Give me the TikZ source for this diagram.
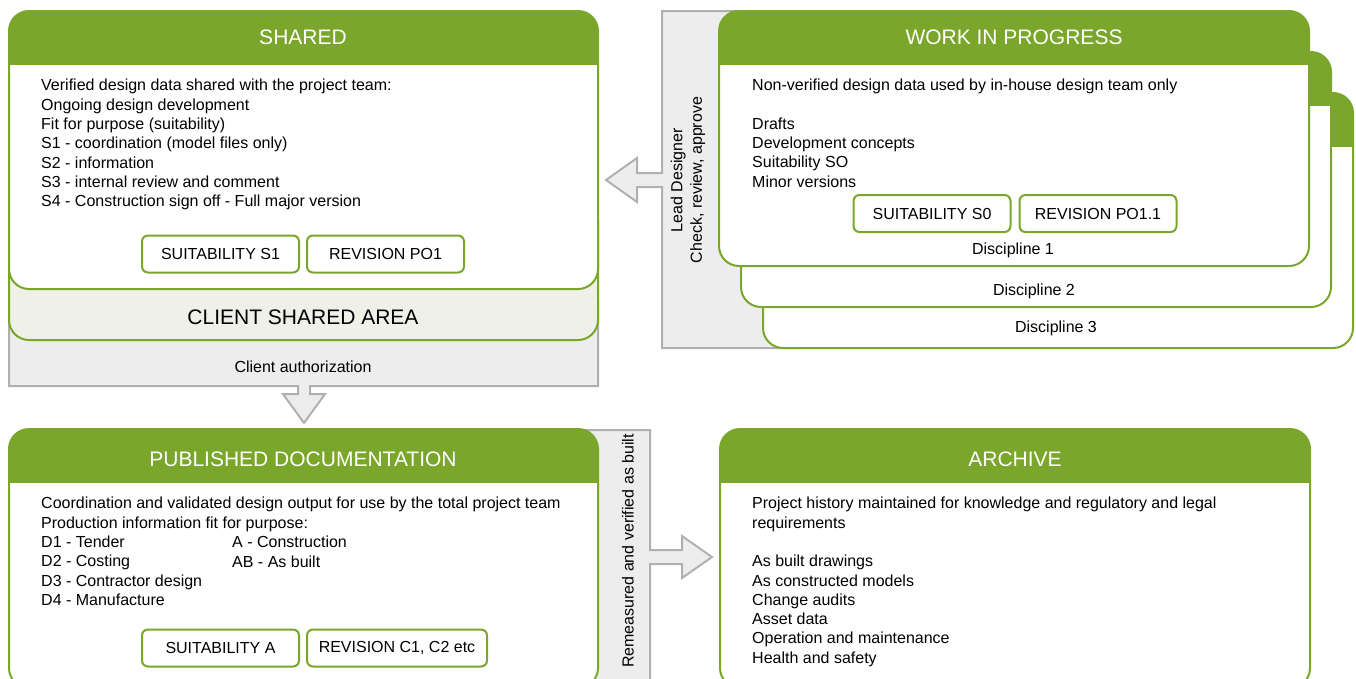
\documentclass[tikz,border=0pt]{standalone}
\usepackage{fontspec}
\setmainfont{Liberation Sans}
\definecolor{grn}{RGB}{122,166,43}
\definecolor{gfill}{RGB}{236,237,236}
\definecolor{gline}{RGB}{176,176,176}
\definecolor{cfill}{RGB}{239,241,233}
\newcommand{\greencard}[4]{%
  \fill[white, rounded corners=20pt] (#1,#2) rectangle (#3,#4);
  \begin{scope}
    \clip (#1-2,#2-2) rectangle (#3+2,#2+53);
    \fill[grn, rounded corners=20pt] (#1,#2) rectangle (#3,#4);
  \end{scope}
  \draw[grn, line width=2pt, rounded corners=20pt] (#1,#2) rectangle (#3,#4);
}
\begin{document}
\begin{tikzpicture}[x=1pt,y=-1pt,
  body/.style={font=\fontsize{16}{19.3}\selectfont, align=left, anchor=north west, inner sep=0pt},
  hdr/.style={font=\fontsize{21}{25}\selectfont, text=white, inner sep=0pt},
  lbl/.style={font=\fontsize{16}{19.3}\selectfont, inner sep=0pt},
  badge/.style={draw=grn, line width=2pt, rounded corners=6pt, fill=white, minimum height=37pt, minimum width=157pt, font=\fontsize{16}{19}\selectfont, inner sep=0pt},
  graypanel/.style={fill=gfill, draw=gline, line width=2pt, line join=miter}
]
\useasboundingbox (0,0) rectangle (1356,678);
\clip (0,0) rectangle (1356,678);

% ---- WIP gray panel with left arrow
\path[graypanel] (800,11) -- (662,11) -- (662,173) -- (637,173) -- (637,158) -- (606,180)
  -- (637,202) -- (637,187) -- (662,187) -- (662,348) -- (800,348);
\node[lbl, rotate=90, align=center] (lead) at (688,180) {Lead Designer\\Check, review, approve};

% ---- WIP cards
\greencard{763}{93}{1353}{348}
\greencard{741}{52}{1331}{307}
\greencard{719}{11}{1309}{266}
\node[hdr] (wiph) at (1014,37) {WORK IN PROGRESS};
\node[body] (wiptext) at (752,79) {Non-verified design data used by in-house design team only\\[19.3pt]Drafts\\Development concepts\\Suitability SO\\Minor versions};
\node[badge] (wipsuit) at (932,213.5) {SUITABILITY S0};
\node[badge] (wiprev) at (1098,213.5) {REVISION PO1.1};
\node[lbl] (d1) at (1013,250) {Discipline 1};
\node[lbl] (d2) at (1034,291) {Discipline 2};
\node[lbl] (d3) at (1056,328) {Discipline 3};

% ---- Client authorization panel with down arrow
\path[graypanel] (9,300) -- (9,386) -- (298,386) -- (298,394) -- (283,394) -- (304,423)
  -- (325,394) -- (310,394) -- (310,386) -- (598,386) -- (598,300);
\node[lbl] (clauth) at (303,367) {Client authorization};

% ---- Client shared area
\draw[grn, fill=cfill, line width=2pt, rounded corners=20pt] (9,200) rectangle (598,340);
\node[lbl, font=\fontsize{21}{25}\selectfont] (csa) at (303,317) {CLIENT SHARED AREA};

% ---- Shared
\greencard{9}{11}{598}{289}
\node[hdr] (shh) at (303,37) {SHARED};
\node[body] (shtext) at (41,79) {Verified design data shared with the project team:\\Ongoing design development\\Fit for purpose (suitability)\\S1 - coordination (model files only)\\S2 - information\\S3 - internal review and comment\\S4 - Construction sign off - Full major version};
\node[badge] (shsuit) at (220.5,254) {SUITABILITY S1};
\node[badge] (shrev) at (385.5,254) {REVISION PO1};

% ---- Remeasured panel with right arrow
\path[graypanel] (560,430) -- (650,430) -- (650,550) -- (682,550) -- (682,536) -- (712,557)
  -- (682,578) -- (682,564) -- (650,564) -- (650,700) -- (560,700);
\node[lbl, rotate=90] (remeas) at (628,551) {Remeasured and verified as built};

% ---- Published documentation
\greencard{9}{429}{598}{688}
\node[hdr] (pubh) at (303,459) {PUBLISHED DOCUMENTATION};
\node[body] (pubtext) at (41,497) {Coordination and validated design output for use by the total project team\\Production information fit for purpose:\\D1 - Tender\\D2 - Costing\\D3 - Contractor design\\D4 - Manufacture};
\node[body] (pubcol) at (232,536) {A - Construction\\AB - As built};
\node[badge] (pubsuit) at (220.5,648) {SUITABILITY A};
\node[badge, minimum width=180pt] (pubrev) at (397,648) {REVISION C1, C2 etc};

% ---- Archive
\greencard{720}{429}{1310}{688}
\node[hdr] (arch) at (1015,459) {ARCHIVE};
\node[body] (archtext) at (752,497) {Project history maintained for knowledge and regulatory and legal\\requirements\\[19.3pt]As built drawings\\As constructed models\\Change audits\\Asset data\\Operation and maintenance\\Health and safety};
\end{tikzpicture}
\end{document}
